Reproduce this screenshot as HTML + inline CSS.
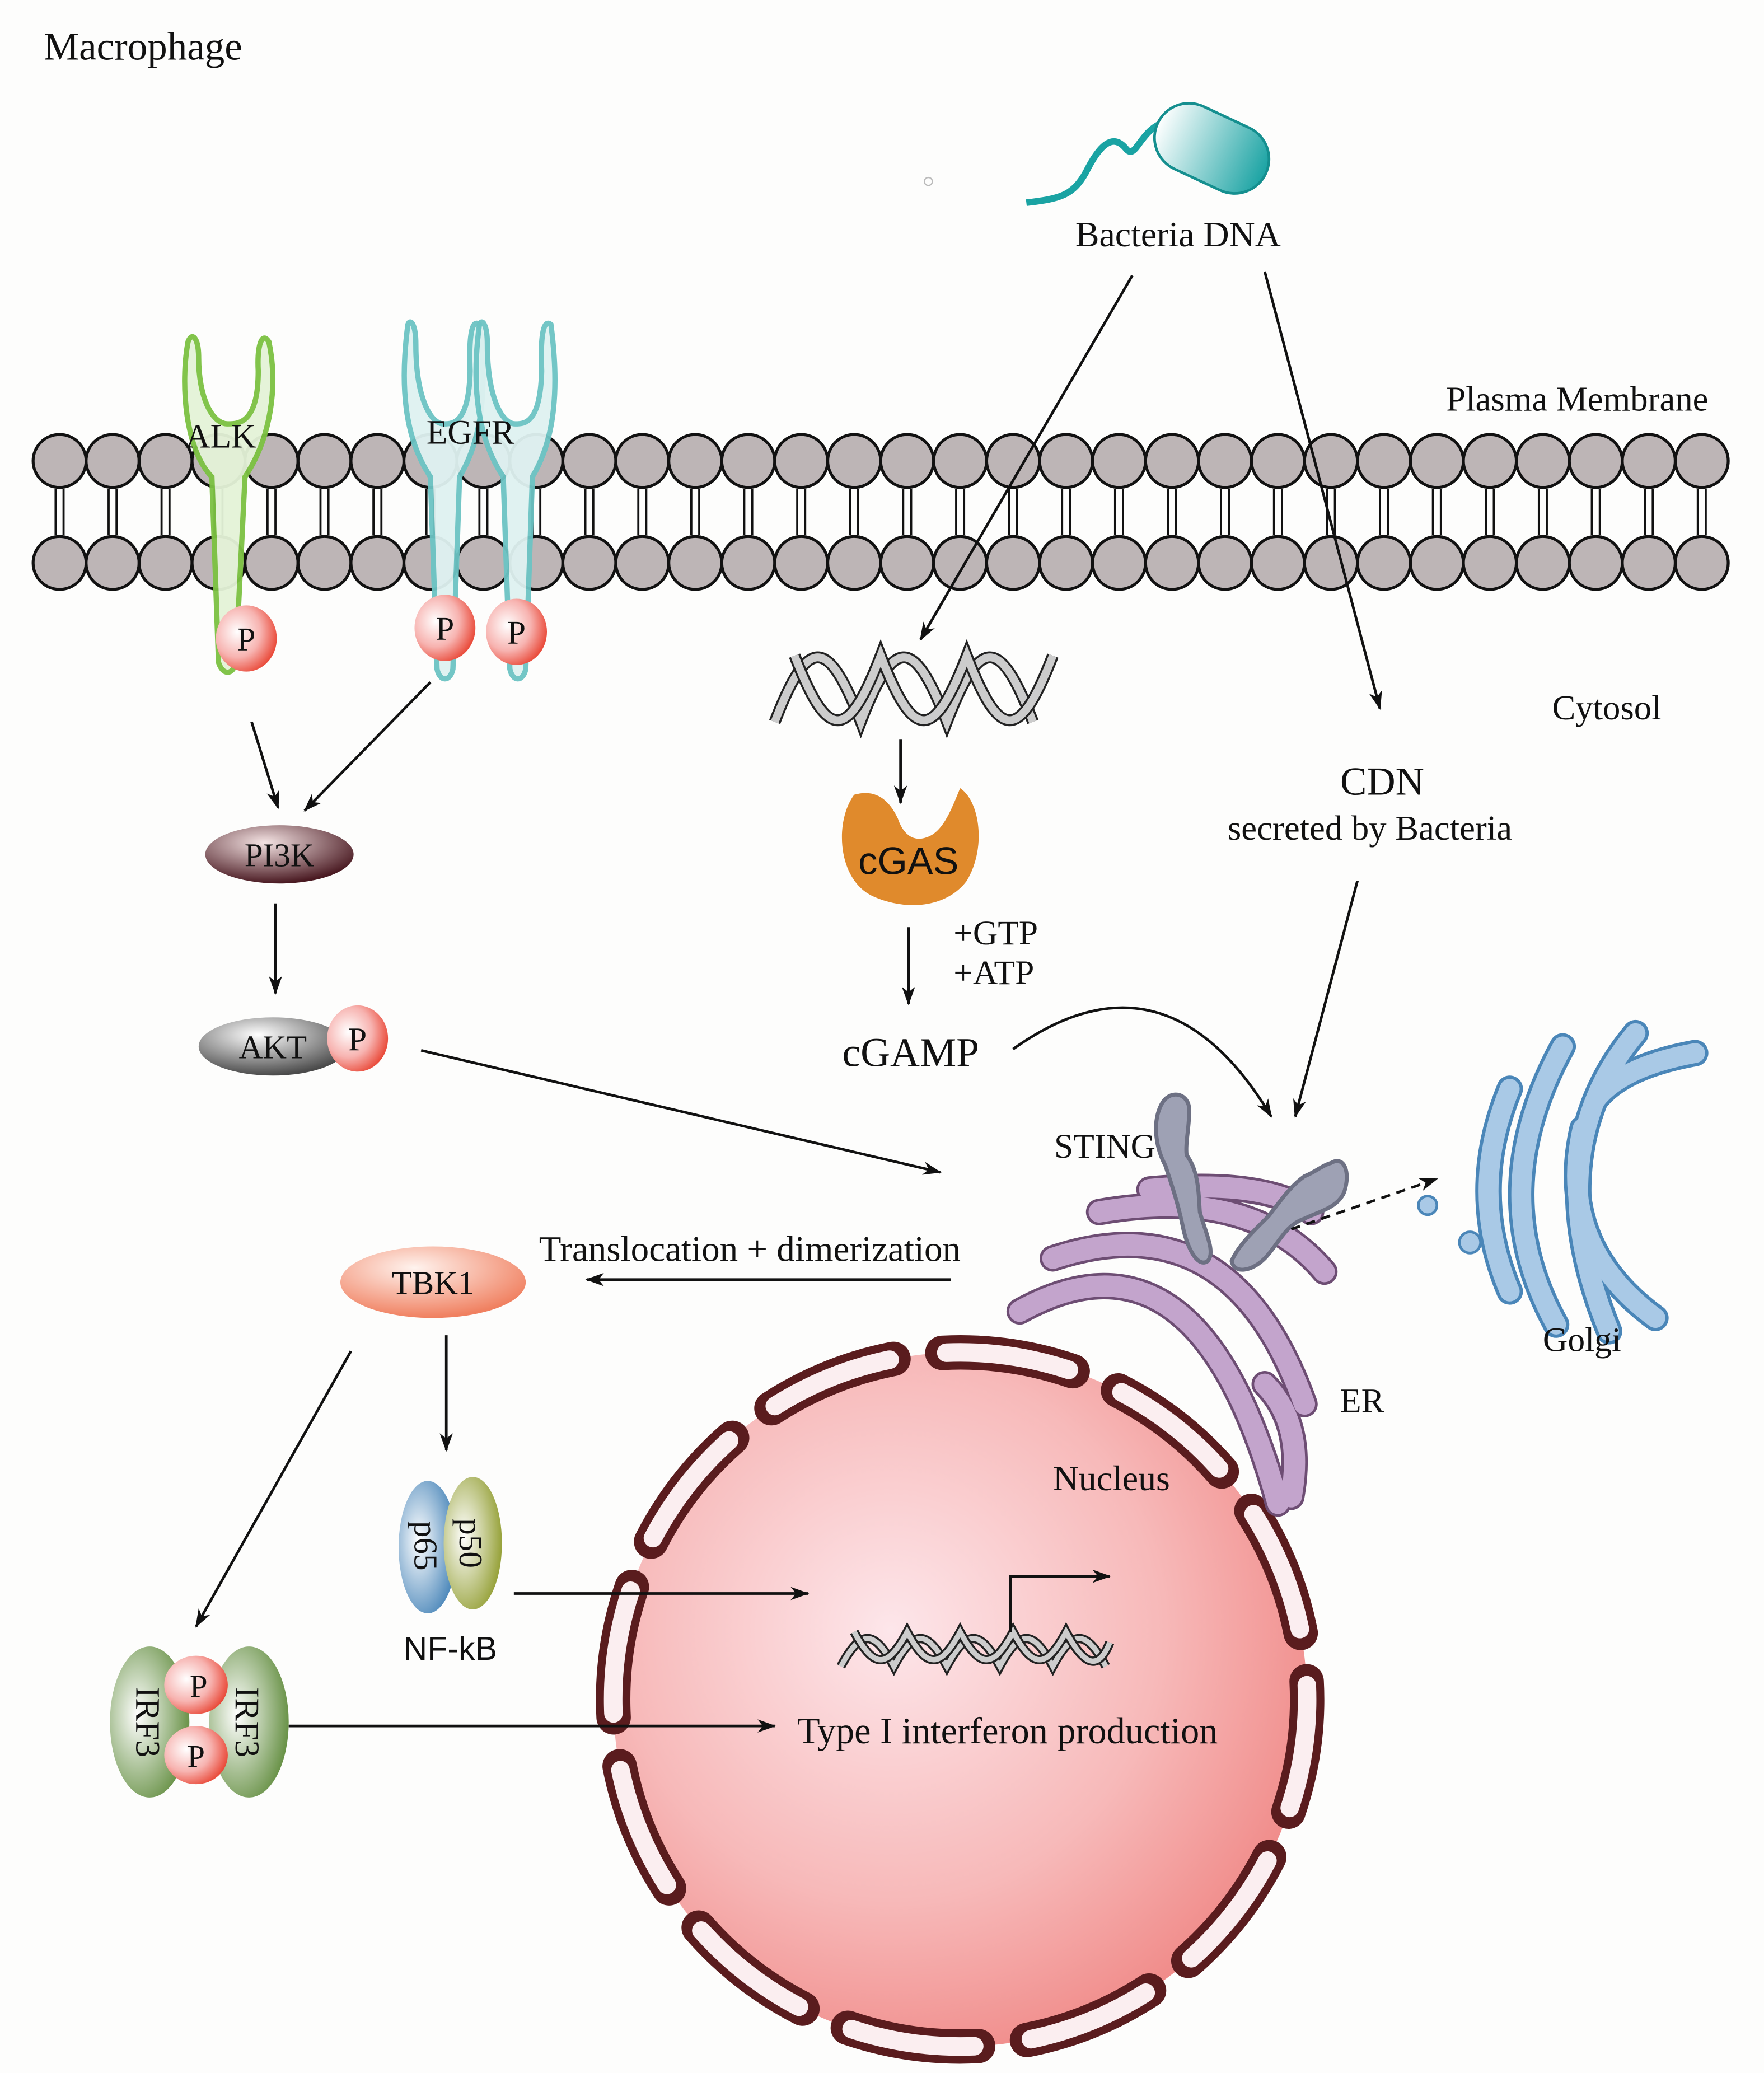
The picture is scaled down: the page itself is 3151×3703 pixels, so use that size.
<!DOCTYPE html>
<html><head><meta charset="utf-8"><style>
html,body{margin:0;padding:0;background:#fdfdfc;}
svg{display:block}
text{font-family:"Liberation Serif",serif;fill:#111}
</style></head><body>
<svg width="3151" height="3703" viewBox="0 0 1332 1565" preserveAspectRatio="none" xmlns="http://www.w3.org/2000/svg">
<defs>
<marker id="a" viewBox="0 0 14 10" refX="13" refY="5" markerWidth="14" markerHeight="10" markerUnits="userSpaceOnUse" orient="auto"><path d="M0,0 L14,5 L0,10 L4,5z" fill="#111"/></marker>
<radialGradient id="nuc" cx="0.4" cy="0.4" r="0.65"><stop offset="0" stop-color="#fde6ea"/><stop offset="0.6" stop-color="#f7b9b9"/><stop offset="1" stop-color="#f08a88"/></radialGradient>
<radialGradient id="pg" cx="0.35" cy="0.4" r="0.7"><stop offset="0" stop-color="#fff"/><stop offset="0.55" stop-color="#f7b3b0"/><stop offset="1" stop-color="#e8402e"/></radialGradient>
<radialGradient id="gr" cx="0.35" cy="0.45" r="0.7"><stop offset="0" stop-color="#fff"/><stop offset="1" stop-color="#5e8a3a"/></radialGradient>
<radialGradient id="bl" cx="0.35" cy="0.45" r="0.7"><stop offset="0" stop-color="#fff"/><stop offset="1" stop-color="#3f7fb5"/></radialGradient>
<radialGradient id="ol" cx="0.35" cy="0.45" r="0.7"><stop offset="0" stop-color="#fff"/><stop offset="1" stop-color="#8f9b2c"/></radialGradient>
<radialGradient id="pi" cx="0.4" cy="0.3" r="0.7"><stop offset="0" stop-color="#f5e4e4"/><stop offset="1" stop-color="#4a1a22"/></radialGradient>
<radialGradient id="ak" cx="0.4" cy="0.3" r="0.7"><stop offset="0" stop-color="#fff"/><stop offset="1" stop-color="#4a4a4a"/></radialGradient>
<radialGradient id="tb" cx="0.4" cy="0.3" r="0.7"><stop offset="0" stop-color="#fff3ee"/><stop offset="1" stop-color="#f08060"/></radialGradient>
<linearGradient id="bac" x1="0" y1="0" x2="1" y2="0"><stop offset="0" stop-color="#fff"/><stop offset="1" stop-color="#1aa3a3"/></linearGradient>
</defs>

<text x="33" y="45" font-size="30">Macrophage</text>
<text x="1092" y="310" font-size="26.5">Plasma Membrane</text>
<text x="1172" y="543" font-size="26.5">Cytosol</text>
<text x="812" y="186" font-size="27">Bacteria DNA</text>
<text x="1012" y="600" font-size="30">CDN</text>
<text x="927" y="634" font-size="26.5">secreted by Bacteria</text>
<circle cx="701" cy="137" r="3" fill="none" stroke="#bbb"/>

<!-- bacteria -->
<path d="M775,153 C800,150 810,148 820,130 C830,110 840,100 850,112 C858,122 860,98 880,92" fill="none" stroke="#1aa3a3" stroke-width="5"/>
<rect x="870" y="86" width="90" height="52" rx="26" fill="url(#bac)" stroke="#158f8f" stroke-width="2" transform="rotate(25 915 112)"/>

<g stroke="#111" stroke-width="2.2" fill="#bdb5b6">
<circle cx="45" cy="348" r="20"/><circle cx="85" cy="348" r="20"/><circle cx="125" cy="348" r="20"/><circle cx="165" cy="348" r="20"/><circle cx="205" cy="348" r="20"/><circle cx="245" cy="348" r="20"/><circle cx="285" cy="348" r="20"/><circle cx="325" cy="348" r="20"/><circle cx="365" cy="348" r="20"/><circle cx="405" cy="348" r="20"/><circle cx="445" cy="348" r="20"/><circle cx="485" cy="348" r="20"/><circle cx="525" cy="348" r="20"/><circle cx="565" cy="348" r="20"/><circle cx="605" cy="348" r="20"/><circle cx="645" cy="348" r="20"/><circle cx="685" cy="348" r="20"/><circle cx="725" cy="348" r="20"/><circle cx="765" cy="348" r="20"/><circle cx="805" cy="348" r="20"/><circle cx="845" cy="348" r="20"/><circle cx="885" cy="348" r="20"/><circle cx="925" cy="348" r="20"/><circle cx="965" cy="348" r="20"/><circle cx="1005" cy="348" r="20"/><circle cx="1045" cy="348" r="20"/><circle cx="1085" cy="348" r="20"/><circle cx="1125" cy="348" r="20"/><circle cx="1165" cy="348" r="20"/><circle cx="1205" cy="348" r="20"/><circle cx="1245" cy="348" r="20"/><circle cx="1285" cy="348" r="20"/>
<circle cx="45" cy="425" r="20"/><circle cx="85" cy="425" r="20"/><circle cx="125" cy="425" r="20"/><circle cx="165" cy="425" r="20"/><circle cx="205" cy="425" r="20"/><circle cx="245" cy="425" r="20"/><circle cx="285" cy="425" r="20"/><circle cx="325" cy="425" r="20"/><circle cx="365" cy="425" r="20"/><circle cx="405" cy="425" r="20"/><circle cx="445" cy="425" r="20"/><circle cx="485" cy="425" r="20"/><circle cx="525" cy="425" r="20"/><circle cx="565" cy="425" r="20"/><circle cx="605" cy="425" r="20"/><circle cx="645" cy="425" r="20"/><circle cx="685" cy="425" r="20"/><circle cx="725" cy="425" r="20"/><circle cx="765" cy="425" r="20"/><circle cx="805" cy="425" r="20"/><circle cx="845" cy="425" r="20"/><circle cx="885" cy="425" r="20"/><circle cx="925" cy="425" r="20"/><circle cx="965" cy="425" r="20"/><circle cx="1005" cy="425" r="20"/><circle cx="1045" cy="425" r="20"/><circle cx="1085" cy="425" r="20"/><circle cx="1125" cy="425" r="20"/><circle cx="1165" cy="425" r="20"/><circle cx="1205" cy="425" r="20"/><circle cx="1245" cy="425" r="20"/><circle cx="1285" cy="425" r="20"/>
</g>
<g stroke="#111" stroke-width="1.6">
<path d="M42,369V404M48,369V404M82,369V404M88,369V404M122,369V404M128,369V404M162,369V404M168,369V404M202,369V404M208,369V404M242,369V404M248,369V404M282,369V404M288,369V404M322,369V404M328,369V404M362,369V404M368,369V404M402,369V404M408,369V404M442,369V404M448,369V404M482,369V404M488,369V404M522,369V404M528,369V404M562,369V404M568,369V404M602,369V404M608,369V404M642,369V404M648,369V404M682,369V404M688,369V404M722,369V404M728,369V404M762,369V404M768,369V404M802,369V404M808,369V404M842,369V404M848,369V404M882,369V404M888,369V404M922,369V404M928,369V404M962,369V404M968,369V404M1002,369V404M1008,369V404M1042,369V404M1048,369V404M1082,369V404M1088,369V404M1122,369V404M1128,369V404M1162,369V404M1168,369V404M1202,369V404M1208,369V404M1242,369V404M1248,369V404M1282,369V404M1288,369V404"/>
</g>

<!-- ALK -->
<path d="M142,258 C136,290 140,340 160,360 L165,500 C168,510 176,510 178,500 L185,360 C205,330 210,290 203,258 C198,250 194,260 195,280 C195,320 180,320 172,320 C160,320 150,300 150,270 C150,255 145,250 142,258z" fill="#e4f3d8" stroke="#7cc242" stroke-width="4" opacity="0.95"/>
<!-- EGFR -->
<path d="M308,245 C302,290 305,330 325,360 L330,505 C332,515 340,515 342,505 L347,360 C365,330 368,290 362,245 C356,240 354,255 355,280 C354,320 342,320 335,320 C325,320 314,300 314,260 C314,245 310,240 308,245z" fill="#dff2f1" stroke="#6cc4c4" stroke-width="4" opacity="0.95"/>
<path d="M362,245 C356,290 360,330 380,360 L385,505 C387,515 395,515 397,505 L402,360 C420,330 422,290 416,245 C410,240 408,255 409,280 C408,320 396,320 389,320 C379,320 368,300 368,260 C368,245 364,240 362,245z" fill="#dff2f1" stroke="#6cc4c4" stroke-width="4" opacity="0.95"/>
<text x="140" y="338" font-size="26">ALK</text>
<text x="322" y="335" font-size="26">EGFR</text>
<g font-size="25" text-anchor="middle">
<ellipse cx="186" cy="482" rx="23" ry="25" fill="url(#pg)"/><text x="186" y="491">P</text>
<ellipse cx="336" cy="474" rx="23" ry="25" fill="url(#pg)"/><text x="336" y="483">P</text>
<ellipse cx="390" cy="477" rx="23" ry="25" fill="url(#pg)"/><text x="390" y="486">P</text>
</g>

<ellipse cx="211" cy="645" rx="56" ry="22" fill="url(#pi)"/>
<text x="211" y="654" font-size="25" text-anchor="middle">PI3K</text>
<ellipse cx="206" cy="790" rx="56" ry="22" fill="url(#ak)"/>
<text x="206" y="799" font-size="25" text-anchor="middle">AKT</text>
<ellipse cx="270" cy="784" rx="23" ry="25" fill="url(#pg)"/><text x="270" y="793" font-size="25" text-anchor="middle">P</text>

<g fill="none">
<path d="M585,545 C610,480 625,480 650,545 C675,480 690,480 715,545 C740,480 755,480 780,545" stroke="#222" stroke-width="9"/>
<path d="M585,545 C610,480 625,480 650,545 C675,480 690,480 715,545 C740,480 755,480 780,545" stroke="#ccc" stroke-width="6"/>
<path d="M600,495 C625,560 640,560 665,495 C690,560 705,560 730,495 C755,560 770,560 795,495" stroke="#222" stroke-width="9"/>
<path d="M600,495 C625,560 640,560 665,495 C690,560 705,560 730,495 C755,560 770,560 795,495" stroke="#ccc" stroke-width="6"/>
</g>
<path d="M645,600 C630,620 632,665 660,677 C685,688 715,685 730,665 C745,640 740,605 725,595 C718,612 712,628 700,632 C690,636 682,630 678,618 C672,605 662,595 645,600z" fill="#e08a2c"/>
<text x="686" y="660" font-size="29" text-anchor="middle" style="font-family:'Liberation Sans',sans-serif">cGAS</text>
<text x="720" y="713" font-size="26">+GTP</text>
<text x="720" y="743" font-size="26">+ATP</text>
<text x="636" y="805" font-size="31">cGAMP</text>

<!-- Nucleus -->
<circle cx="725" cy="1283" r="262" fill="url(#nuc)"/>
<g fill="none" transform="rotate(-3 725 1283)">
<circle cx="725" cy="1283" r="262" stroke="#5a1c1e" stroke-width="26" stroke-dasharray="100 37.2" stroke-linecap="round"/>
<circle cx="725" cy="1283" r="262" stroke="#fbeef0" stroke-width="14" stroke-dasharray="94 43.2" stroke-dashoffset="-3" stroke-linecap="round"/>
</g>
<text x="795" y="1125" font-size="27">Nucleus</text>

<!-- ER -->
<g fill="none" stroke-linecap="round">
<g stroke="#6d4d73" stroke-width="20">
<path d="M770,990 Q905,915 965,1135"/>
<path d="M795,950 Q930,905 985,1060"/>
<path d="M830,915 Q945,895 1000,960"/>
<path d="M868,898 Q955,890 990,915"/>
<path d="M955,1045 Q985,1075 975,1130"/>
</g>
<g stroke="#c3a4cc" stroke-width="16">
<path d="M770,990 Q905,915 965,1135"/>
<path d="M795,950 Q930,905 985,1060"/>
<path d="M830,915 Q945,895 1000,960"/>
<path d="M868,898 Q955,890 990,915"/>
<path d="M955,1045 Q985,1075 975,1130"/>
</g>
</g>
<text x="1012" y="1066" font-size="26">ER</text>

<!-- STING -->
<g fill="#9ea1b4" stroke="#6d7083" stroke-width="3">
<path d="M878,832 C885,822 898,826 898,838 C898,852 895,862 896,872 C905,884 905,900 906,915 C910,930 918,945 912,952 C905,957 898,945 894,930 C890,910 885,895 880,880 C872,865 870,845 878,832z"/>
<path d="M1005,878 C1015,872 1020,885 1015,900 C1010,912 995,915 985,920 C970,925 965,940 955,950 C945,960 932,962 930,952 C935,940 948,928 958,918 C968,905 975,895 985,888 C993,885 998,880 1005,878z"/>
</g>
<text x="796" y="874" font-size="26">STING</text>

<!-- Golgi -->
<g fill="none" stroke-linecap="round">
<g stroke="#4a86b8" stroke-width="20">
<path d="M1140,822 Q1108,900 1140,975"/>
<path d="M1180,790 Q1120,900 1175,1000"/>
<path d="M1235,780 Q1160,870 1215,1005"/>
<path d="M1280,795 Q1225,805 1205,830"/>
<path d="M1195,852 Q1175,940 1250,995"/>
</g>
<g stroke="#a9c9e6" stroke-width="15">
<path d="M1140,822 Q1108,900 1140,975"/>
<path d="M1180,790 Q1120,900 1175,1000"/>
<path d="M1235,780 Q1160,870 1215,1005"/>
<path d="M1280,795 Q1225,805 1205,830"/>
<path d="M1195,852 Q1175,940 1250,995"/>
</g>
</g>
<circle cx="1078" cy="910" r="7" fill="#a9c9e6" stroke="#4a86b8" stroke-width="2"/>
<circle cx="1110" cy="938" r="8" fill="#a9c9e6" stroke="#4a86b8" stroke-width="2"/>
<text x="1165" y="1020" font-size="26">Golgi</text>

<!-- TBK1 -->
<ellipse cx="327" cy="968" rx="70" ry="27" fill="url(#tb)"/>
<text x="327" y="977" font-size="25" text-anchor="middle">TBK1</text>
<text x="407" y="952" font-size="27.5">Translocation + dimerization</text>

<!-- NF-kB -->
<ellipse cx="323" cy="1168" rx="22" ry="50" fill="url(#bl)"/>
<ellipse cx="357" cy="1165" rx="22" ry="50" fill="url(#ol)"/>
<text transform="translate(313,1167) rotate(90)" font-size="25" text-anchor="middle">p65</text>
<text transform="translate(347,1165) rotate(90)" font-size="25" text-anchor="middle">p50</text>
<text x="340" y="1253" font-size="25" text-anchor="middle" style="font-family:'Liberation Sans',sans-serif">NF-kB</text>

<!-- IRF3 -->
<ellipse cx="113" cy="1300" rx="30" ry="57" fill="url(#gr)"/>
<ellipse cx="188" cy="1300" rx="30" ry="57" fill="url(#gr)"/>
<text transform="translate(103,1300) rotate(90)" font-size="26" text-anchor="middle">IRF3</text>
<text transform="translate(178,1300) rotate(90)" font-size="26" text-anchor="middle">IRF3</text>
<ellipse cx="148" cy="1272" rx="24" ry="22" fill="url(#pg)"/><text x="150" y="1281" font-size="24" text-anchor="middle">P</text>
<ellipse cx="148" cy="1325" rx="24" ry="22" fill="url(#pg)"/><text x="148" y="1334" font-size="24" text-anchor="middle">P</text>

<g fill="none">
<path d="M635,1258 C650,1230 660,1230 675,1258 C690,1230 700,1230 715,1258 C730,1230 740,1230 755,1258 C770,1230 780,1230 795,1258 C810,1230 820,1230 835,1258" stroke="#222" stroke-width="7"/>
<path d="M635,1258 C650,1230 660,1230 675,1258 C690,1230 700,1230 715,1258 C730,1230 740,1230 755,1258 C770,1230 780,1230 795,1258 C810,1230 820,1230 835,1258" stroke="#ccc" stroke-width="4"/>
<path d="M645,1232 C660,1260 670,1260 685,1232 C700,1260 710,1260 725,1232 C740,1260 750,1260 765,1232 C780,1260 790,1260 805,1232 C820,1260 830,1260 838,1240" stroke="#222" stroke-width="7"/>
<path d="M645,1232 C660,1260 670,1260 685,1232 C700,1260 710,1260 725,1232 C740,1260 750,1260 765,1232 C780,1260 790,1260 805,1232 C820,1260 830,1260 838,1240" stroke="#ccc" stroke-width="4"/>
</g>
<text x="602" y="1316" font-size="28">Type I interferon production</text>

<g fill="none" stroke="#111" stroke-width="2" marker-end="url(#a)">
<path d="M855,208 L695,483"/>
<path d="M955,205 L1042,535"/>
<path d="M190,545 L210,610"/>
<path d="M325,515 L230,612"/>
<path d="M208,682 L208,750"/>
<path d="M318,793 L710,885"/>
<path d="M680,558 L680,606"/>
<path d="M686,700 L686,758"/>
<path d="M765,792 Q880,710 960,843"/>
<path d="M1025,665 L978,843"/>
<path d="M718,966 L443,966"/>
<path d="M337,1008 L337,1095"/>
<path d="M265,1020 L148,1228"/>
<path d="M388,1203 L610,1203"/>
<path d="M218,1303 L585,1303"/>
<path d="M763,1232 L763,1190 L838,1190"/>
<path d="M975,928 L1085,890" stroke-dasharray="7 5"/>
</g>
</svg>
</body></html>
